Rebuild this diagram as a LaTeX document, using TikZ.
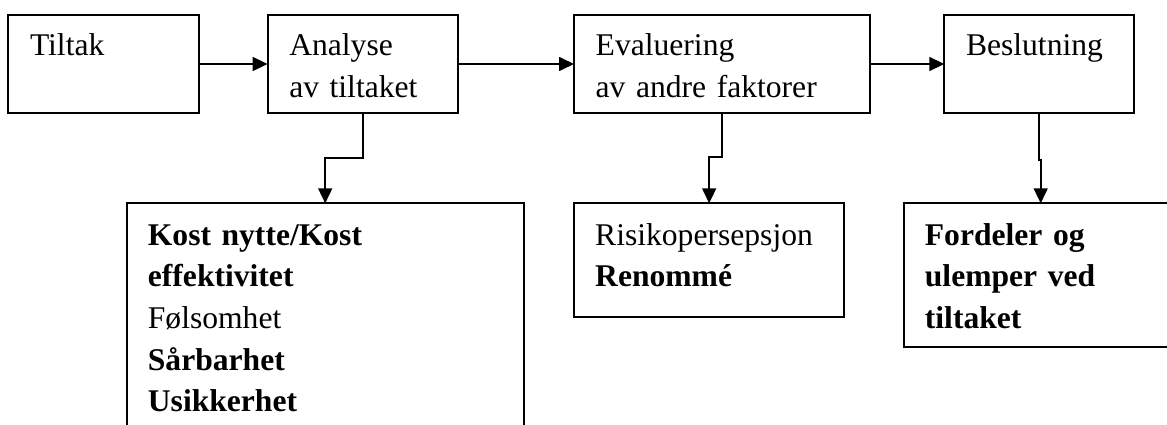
\documentclass[tikz,border=0pt]{standalone}
\usepackage{fontspec}
\setmainfont{Liberation Serif}
\usetikzlibrary{arrows.meta}

\begin{document}
\begin{tikzpicture}[x=1pt,y=-1pt,
  >={Triangle[length=15pt,width=14pt]},
  box/.style={rectangle,draw,line width=1.8pt,inner sep=0pt,outer sep=0pt,anchor=north west},
  txt/.style={anchor=base west,align=left,text width=360pt,inner sep=0pt,font=\fontsize{31.6}{41.7}\selectfont},
  conn/.style={line width=1.7pt}]
\clip (0,0) rectangle (1167,425);

% top row
\node[box,minimum width=190.7pt,minimum height=98.6pt] (tiltak) at (8.3,14.7) {};
\node[box,minimum width=190.1pt,minimum height=98.6pt] (analyse) at (267.6,14.7) {};
\node[box,minimum width=296pt,minimum height=98.6pt] (evaluering) at (574,14.7) {};
\node[box,minimum width=190pt,minimum height=98.6pt] (beslutning) at (944.3,14.7) {};

% bottom row
\node[box,minimum width=397pt,minimum height=240pt] (kost) at (126.7,203.3) {};
\node[box,minimum width=270.3pt,minimum height=113.4pt] (risiko) at (574,203.3) {};
\node[box,minimum width=274pt,minimum height=143.4pt] (fordeler) at (903.7,203.3) {};

% texts
\node[txt] (tiltak-t) at ([shift={(21.5,41.2)}]tiltak.north west) {Tiltak};
\node[txt] (analyse-t) at ([shift={(21.5,41.2)}]analyse.north west) {Analyse\\av tiltaket};
\node[txt] (evaluering-t) at ([shift={(21.5,41.2)}]evaluering.north west) {Evaluering\\av andre faktorer};
\node[txt] (beslutning-t) at ([shift={(21.5,41.2)}]beslutning.north west) {Beslutning};
\node[txt] (kost-t) at ([shift={(21,41.7)}]kost.north west)
  {\textbf{Kost nytte/Kost}\\\textbf{effektivitet}\\Følsomhet\\\textbf{Sårbarhet}\\\textbf{Usikkerhet}};
\node[txt] (risiko-t) at ([shift={(21,41.7)}]risiko.north west) {Risikopersepsjon\\\textbf{Renommé}};
\node[txt] (fordeler-t) at ([shift={(21,41.7)}]fordeler.north west)
  {\textbf{Fordeler og}\\\textbf{ulemper ved}\\\textbf{tiltaket}};

\path[->,conn]
(tiltak) edge (analyse)
(analyse) edge (evaluering)
(evaluering) edge (beslutning);

\draw[->,conn] (analyse.south) -- ++(0,45) -| (kost.north);
\draw[->,conn] (evaluering.south) -- ++(0,44) -| (risiko.north);
\draw[->,conn] (beslutning.south) -- ++(0,47) -| (fordeler.north);
\end{tikzpicture}
\end{document}
